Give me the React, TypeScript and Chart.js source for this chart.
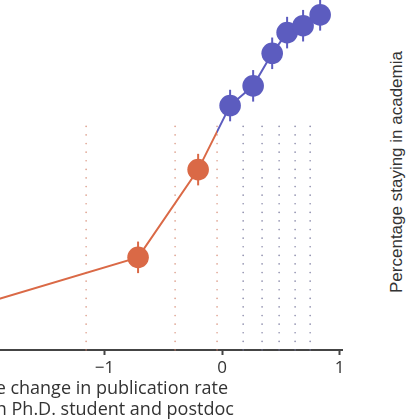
import React, { useEffect, useRef } from "react";
import { Chart, registerables } from "chart.js";

Chart.register(...registerables);

// ---- data ----
const xValues = [-2.4, -0.715, -0.204, 0.068, 0.264, 0.426, 0.553, 0.689, 0.834];
const yValues = [43.4, 49.4, 58.3, 64.8, 66.8, 70.1, 72.2, 72.9, 74.0];
const yErrors = [1.6, 1.6, 1.6, 1.6, 1.6, 1.6, 1.6, 1.6, 1.6];
const binEdges = [-1.157, -0.4, -0.043, 0.179, 0.34, 0.485, 0.621, 0.749];
const colorBoundary = -0.043;
const guideTop = 63.1;
const tickValues = [-1, 0, 1];
const xTitle = ["Relative change in publication rate", "between Ph.D. student and postdoc"];
const sideTitle = "Percentage staying in academia";

const ORANGE = "#da6946";
const BLUE = "#5c5cbf";
const ORANGE_GUIDE = "rgba(210,125,100,0.75)";
const BLUE_GUIDE = "rgba(110,110,150,0.8)";
const AXIS_FONT = "'Open Sans', 'Liberation Sans', sans-serif";
const SIDE_FONT = "'Liberation Sans', Arial, sans-serif";

const guidesPlugin = {
  id: "guides",
  beforeDatasetsDraw(chart: any) {
    const { ctx, scales } = chart;
    const x = scales.x;
    const y = scales.y;
    ctx.save();
    ctx.lineWidth = 1.6;
    ctx.lineCap = "round";
    ctx.setLineDash([0.1, 8.5]);
    binEdges.forEach((e) => {
      const px = x.getPixelForValue(e);
      ctx.strokeStyle = e <= colorBoundary ? ORANGE_GUIDE : BLUE_GUIDE;
      ctx.beginPath();
      ctx.moveTo(px, y.getPixelForValue(y.min));
      ctx.lineTo(px, y.getPixelForValue(guideTop));
      ctx.stroke();
    });
    ctx.restore();
  },
};

const errorBarPlugin = {
  id: "errorBars",
  beforeDatasetsDraw(chart: any) {
    const { ctx, scales } = chart;
    const x = scales.x;
    const y = scales.y;
    ctx.save();
    ctx.lineWidth = 2;
    ctx.setLineDash([]);
    xValues.forEach((xv, i) => {
      const px = x.getPixelForValue(xv);
      ctx.strokeStyle = xv < colorBoundary ? ORANGE : BLUE;
      ctx.beginPath();
      ctx.moveTo(px, y.getPixelForValue(yValues[i] - yErrors[i]));
      ctx.lineTo(px, y.getPixelForValue(yValues[i] + yErrors[i]));
      ctx.stroke();
    });
    ctx.restore();
  },
};

const CANVAS_W = 560;
const CANVAS_H = 421;

export default function App() {
  const canvasRef = useRef<HTMLCanvasElement | null>(null);

  useEffect(() => {
    if (!canvasRef.current) return;
    const chart = new Chart(canvasRef.current, {
      type: "line",
      data: {
        datasets: [
          {
            data: xValues.map((xv, i) => ({ x: xv, y: yValues[i] })),
            borderWidth: 2,
            borderColor: (c: any) => {
              const ch = c.chart;
              const area = ch.chartArea;
              if (!area) return ORANGE;
              const xb = ch.scales.x.getPixelForValue(colorBoundary);
              const g = ch.ctx.createLinearGradient(area.left, 0, area.right, 0);
              const t = Math.min(1, Math.max(0, (xb - area.left) / (area.right - area.left)));
              g.addColorStop(0, ORANGE);
              g.addColorStop(t, ORANGE);
              g.addColorStop(t, BLUE);
              g.addColorStop(1, BLUE);
              return g;
            },
            pointRadius: 10.8,
            pointHoverRadius: 10.8,
            pointBorderWidth: 0,
            pointBackgroundColor: xValues.map((xv) => (xv < colorBoundary ? ORANGE : BLUE)),
            tension: 0,
            clip: false as any,
          },
        ],
      },
      options: {
        animation: false,
        responsive: false,
        maintainAspectRatio: false,
        layout: { autoPadding: false, padding: { left: 26, right: 18, top: 5, bottom: 0 } },
        plugins: { legend: { display: false }, tooltip: { enabled: false } },
        scales: {
          x: {
            type: "linear",
            min: -3.37,
            max: 1.02,
            afterBuildTicks: (scale: any) => {
              scale.ticks = tickValues.map((v) => ({ value: v }));
            },
            afterFit: (scale: any) => {
              scale.height = 71;
            },
            grid: {
              drawOnChartArea: false,
              drawTicks: true,
              tickLength: 5,
              tickWidth: 2,
              color: "#444",
            },
            border: { display: true, color: "#444", width: 2 },
            ticks: {
              padding: 4.5,
              color: "#333",
              font: { family: AXIS_FONT, size: 17, lineHeight: 1 },
              maxRotation: 0,
              callback: (v: any) => String(v).replace("-", "\u2212"),
            },
            title: {
              display: true,
              text: xTitle,
              color: "#333",
              font: { family: AXIS_FONT, size: 18, lineHeight: 1.206 },
              padding: { top: 0, bottom: 0 },
            },
          },
          y: {
            type: "linear",
            display: false,
            min: 40,
            max: 75,
          },
        },
      },
      plugins: [guidesPlugin, errorBarPlugin],
    });
    return () => chart.destroy();
  }, []);

  return (
    <div
      style={{
        position: "fixed",
        left: 0,
        top: 0,
        width: 420,
        height: 420,
        overflow: "hidden",
        background: "#fff",
      }}
    >
      <div style={{ position: "absolute", left: -200, top: 0, width: CANVAS_W, height: CANVAS_H }}>
        <canvas
          ref={canvasRef}
          width={CANVAS_W}
          height={CANVAS_H}
          style={{ width: CANVAS_W, height: CANVAS_H }}
        />
      </div>
      <div
        style={{
          position: "absolute",
          left: 397,
          top: 172,
          transform: "translate(-50%, -50%) rotate(-90deg)",
          whiteSpace: "nowrap",
          fontFamily: SIDE_FONT,
          fontSize: 17,
          color: "#333",
        }}
      >
        {sideTitle}
      </div>
    </div>
  );
}
